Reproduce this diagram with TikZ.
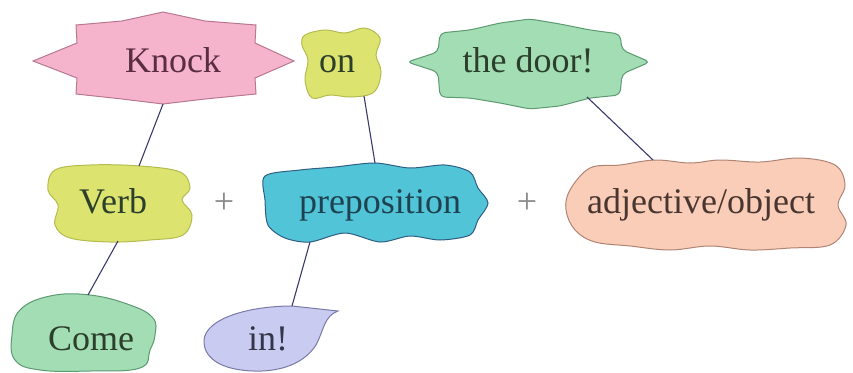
\documentclass[tikz,border=0pt]{standalone}
\usepackage{fontspec}
\setmainfont{Liberation Serif}
\definecolor{knockpink}{HTML}{F5B3CC}
\definecolor{knockline}{HTML}{B87890}
\definecolor{onyellow}{HTML}{DCE36E}
\definecolor{onyline}{HTML}{B4BC50}
\definecolor{doorgreen}{HTML}{A3DDB4}
\definecolor{doorline}{HTML}{5C9A72}
\definecolor{prepblue}{HTML}{52C4D8}
\definecolor{prepline}{HTML}{2E5E82}
\definecolor{adjpeach}{HTML}{F9CDB8}
\definecolor{adjline}{HTML}{B08474}
\definecolor{inlilac}{HTML}{C9CBF0}
\definecolor{inline}{HTML}{7A7AA8}
\definecolor{linkblue}{HTML}{3A3A6E}
\definecolor{knocktext}{HTML}{5A2D40}
\definecolor{greentext}{HTML}{2B3F2C}
\definecolor{preptext}{HTML}{1E4350}
\definecolor{adjtext}{HTML}{4A3630}
\definecolor{intext}{HTML}{35354A}
\definecolor{plusgray}{HTML}{8A8A8A}
\begin{document}
\begin{tikzpicture}[x=1pt, y=-1pt,
        word/.style={anchor=base, inner sep=0pt, font=\fontsize{36}{40}\selectfont},
        blob/.style={line width=1pt},
        link/.style={draw=linkblue, line width=1.1pt}]
    \useasboundingbox (0, 0) rectangle (853, 372);
    % top row
    \draw[blob, draw=knockline, fill=knockpink] (33, 61) -- (77, 43) -- (76, 25) -- (122, 21)
        -- (163, 12) -- (205, 21) -- (256, 25) -- (255, 43) -- (294, 61) -- (255, 78)
        -- (256, 94) -- (205, 99) -- (163, 104) -- (122, 99) -- (76, 94) -- (77, 78) -- cycle;
    \draw[blob, draw=onyline, fill=onyellow] plot[smooth cycle, tension=0.6] coordinates
        {(305, 35) (325, 30) (345, 33) (365, 28) (380, 38) (376, 55) (381, 72) (374, 92)
         (352, 97) (330, 95) (312, 98) (305, 80) (308, 60) (302, 45)};
    \draw[blob, draw=doorline, fill=doorgreen, rounded corners=5pt] (407, 62) -- (438, 52)
        -- (440, 33) -- (470, 30) -- (500, 23) -- (530, 19) -- (560, 24) -- (590, 30)
        -- (620, 34) -- (622, 50) -- (650, 62) -- (622, 74) -- (620, 95) -- (590, 98)
        -- (560, 106) -- (530, 109) -- (500, 103) -- (470, 98) -- (440, 97) -- (438, 72) -- cycle;
    % middle row
    \draw[blob, draw=onyline, fill=onyellow] plot[smooth cycle, tension=0.6] coordinates
        {(55, 170) (90, 165) (140, 166) (180, 172) (190, 188) (182, 200) (192, 215) (183, 235)
         (150, 240) (110, 242) (70, 238) (55, 225) (58, 205) (48, 190)};
    \draw[blob, draw=prepline, fill=prepblue] plot[smooth cycle, tension=0.5] coordinates
        {(265, 176) (300, 170) (335, 167) (375, 163) (410, 168) (445, 165) (470, 172) (478, 188)
         (488, 203) (478, 220) (470, 235) (440, 240) (410, 236) (380, 242) (345, 233) (310, 242)
         (285, 238) (268, 225) (265, 200)};
    \draw[blob, draw=adjline, fill=adjpeach] plot[smooth cycle, tension=0.6] coordinates
        {(570, 190) (590, 168) (620, 165) (655, 160) (690, 163) (720, 160) (760, 162) (800, 158)
         (835, 165) (845, 185) (838, 205) (846, 225) (830, 245) (790, 248) (750, 250) (710, 246)
         (670, 250) (630, 246) (595, 242) (575, 230) (566, 210)};
    % bottom row
    \draw[blob, draw=doorline, fill=doorgreen] plot[smooth cycle, tension=0.7] coordinates
        {(20, 310) (50, 296) (90, 295) (130, 305) (153, 318) (155, 335) (150, 350) (140, 368)
         (90, 371) (40, 370) (15, 360) (12, 335)};
    \draw[blob, draw=inline, fill=inlilac] (292, 306) -- (338, 311)
        .. controls (324, 316) and (324, 330) .. (316, 345)
        .. controls (305, 362) and (285, 370) .. (262, 371)
        .. controls (225, 372) and (203, 360) .. (204, 340)
        .. controls (206, 318) and (250, 306) .. (292, 306) -- cycle;
    % words
    \node[word, text=knocktext] (knock) at (173, 72) {Knock};
    \node[word, text=greentext] (on) at (337, 72) {on};
    \node[word, text=greentext] (door) at (528, 72) {the door!};
    \node[word, text=greentext] (verb) at (113, 213) {Verb};
    \node[word, text=plusgray] (plusa) at (224, 213) {+};
    \node[word, text=preptext] (prep) at (380, 213) {preposition};
    \node[word, text=plusgray] (plusb) at (527, 213) {+};
    \node[word, text=adjtext] (adj) at (701, 213) {adjective/object};
    \node[word, text=greentext] (come) at (91, 350) {Come};
    \node[word, text=intext] (in) at (268, 350) {in!};
    % links
    \coordinate (knock-b) at (163, 104);
    \coordinate (verb-t) at (139, 166);
    \coordinate (on-b) at (364, 96);
    \coordinate (prep-t) at (375, 163);
    \coordinate (door-b) at (587, 97);
    \coordinate (adj-t) at (653, 160);
    \coordinate (verb-b) at (118, 241);
    \coordinate (come-t) at (88, 295);
    \coordinate (prep-b) at (310, 242);
    \coordinate (in-t) at (292, 306);
    \draw[link] (knock-b) -- (verb-t);
    \draw[link] (on-b) -- (prep-t);
    \draw[link] (door-b) -- (adj-t);
    \draw[link] (verb-b) -- (come-t);
    \draw[link] (prep-b) -- (in-t);
\end{tikzpicture}
\end{document}
